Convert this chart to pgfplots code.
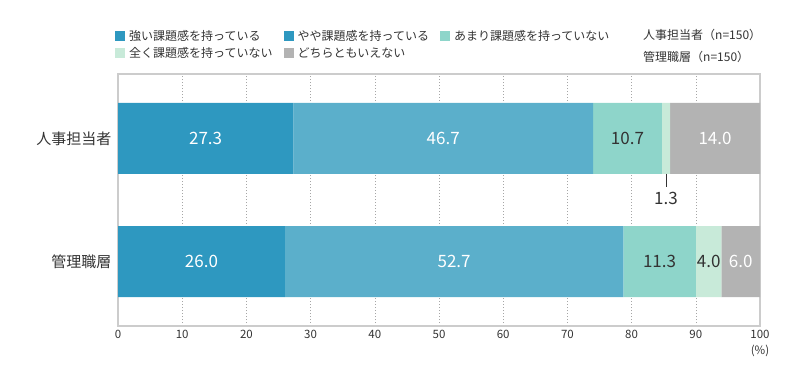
\documentclass[border=0pt]{standalone}
\usepackage{pgfplots}
\pgfplotsset{compat=1.18}
\usepackage{fontspec}
\setmainfont{Noto Sans CJK JP}
\definecolor{c1}{HTML}{2E98C0}
\definecolor{c2}{HTML}{5BAFCB}
\definecolor{c3}{HTML}{8ED5CA}
\definecolor{c4}{HTML}{C8EAD9}
\definecolor{c5}{HTML}{B3B3B3}
\definecolor{txt}{HTML}{333333}
\begin{document}
\begin{tikzpicture}
\useasboundingbox (0,0) rectangle (790pt,368pt);
\begin{axis}[
  at={(118pt,42pt)}, anchor=south west,
  scale only axis, width=642pt, height=252pt,
  xbar stacked, bar width=71pt,
  xmin=0, xmax=100, ymin=-0.524, ymax=1.524,
  xtick={0,10,...,100}, ytick={0,1}, yticklabels={管理職層,人事担当者},
  major tick length=0pt,
  xmajorgrids,
  major grid style={gray!70, dash pattern=on 1.5pt off 1.5pt, line width=0.5pt},
  axis line style={gray!40, line width=1.2pt},
  xticklabel style={font=\fontsize{11.5}{12}\selectfont, text=txt, yshift=-1pt},
  yticklabel style={font=\fontsize{15}{16}\selectfont, text=txt, xshift=-3pt},
  /pgf/number format/assume math mode=true,
  clip=false,
  legend columns=3,
  legend cell align=left,
  legend style={at={(axis description cs:0,1)}, anchor=north west,
    xshift=-3pt, yshift=45pt, draw=none, fill=none, inner sep=0pt,
    font=\fontsize{12}{14}\selectfont, text=txt,
    nodes={inner sep=1pt, text depth=1pt},
    /tikz/every odd column/.append style={column sep=3pt},
    /tikz/every even column/.append style={column sep=10pt},
    row sep=4pt},
]
\addplot[fill=c1, draw=none, legend image code/.code={\fill[c1] (0pt,-5pt) rectangle (10pt,5pt);}] coordinates {(27.3,1) (26.0,0)};
\addlegendentry{強い課題感を持っている}
\addplot[fill=c2, draw=none, legend image code/.code={\fill[c1] (0pt,-5pt) rectangle (10pt,5pt);}] coordinates {(46.7,1) (52.7,0)};
\addlegendentry{やや課題感を持っている}
\addplot[fill=c3, draw=none, legend image code/.code={\fill[c3] (0pt,-5pt) rectangle (10pt,5pt);}] coordinates {(10.7,1) (11.3,0)};
\addlegendentry{あまり課題感を持っていない}
\addplot[fill=c4, draw=none, legend image code/.code={\fill[c4] (0pt,-5pt) rectangle (10pt,5pt);}] coordinates {(1.3,1) (4.0,0)};
\addlegendentry{全く課題感を持っていない}
\addplot[fill=c5, draw=none, legend image code/.code={\fill[c5] (0pt,-5pt) rectangle (10pt,5pt);}] coordinates {(14.0,1) (6.0,0)};
\addlegendentry{どちらともいえない}
% anchor points for the value labels
\coordinate (a1) at (axis cs:13.65,1);
\coordinate (a2) at (axis cs:50.65,1);
\coordinate (a3) at (axis cs:79.35,1);
\coordinate (a5) at (axis cs:93,1);
\coordinate (b1) at (axis cs:13,0);
\coordinate (b2) at (axis cs:52.35,0);
\coordinate (b3) at (axis cs:84.35,0);
\coordinate (b4) at (axis cs:92,0);
\coordinate (b5) at (axis cs:97,0);
\coordinate (l1) at (axis cs:85.35,0.715);
\coordinate (l2) at (axis cs:85.35,0.605);
\coordinate (l3) at (axis cs:85.35,0.51);
\coordinate (pc) at (axis description cs:1,0);
\end{axis}
\begin{scope}[every node/.style={font=\fontsize{17}{20}\selectfont}]
\node[white] at (a1) {27.3};
\node[white] at (a2) {46.7};
\node[txt] at (a3) {10.7};
\node[white] at (a5) {14.0};
\node[white] at (b1) {26.0};
\node[white] at (b2) {52.7};
\node[txt] at (b3) {11.3};
\node[txt] at (b4) {4.0};
\node[white] at (b5) {6.0};
\draw[txt, line width=0.8pt] (l1) -- (l2);
\node[txt] at (l3) {1.3};
\end{scope}
\node[font=\fontsize{11.5}{12}\selectfont, text=txt] at ([yshift=-25pt]pc) {(\%)};
\node[anchor=west, font=\fontsize{12}{14}\selectfont, text=txt, inner sep=0pt] at (643pt,333pt) {人事担当者（n=150）};
\node[anchor=west, font=\fontsize{12}{14}\selectfont, text=txt, inner sep=0pt] at (643pt,311pt) {管理職層（n=150）};
\end{tikzpicture}
\end{document}
